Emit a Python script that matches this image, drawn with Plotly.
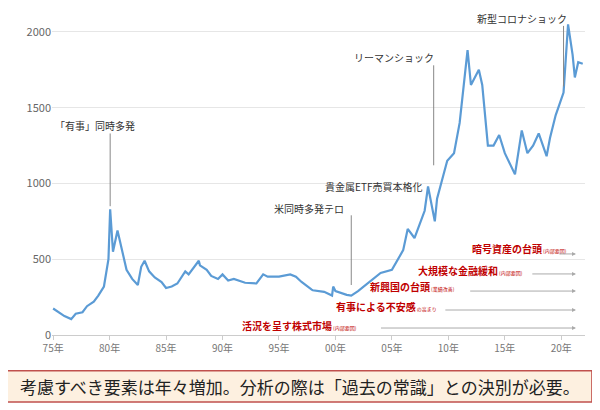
import plotly.graph_objects as go

years = [1975,1975.5,1976,1976.6,1977,1977.6,1978,1978.6,1979,1979.5,1979.9,1980.05,1980.3,1980.7,1981,1981.5,1982,1982.5,1982.8,1983.1,1983.5,1984,1984.6,1985,1985.5,1986,1986.7,1987,1987.9,1988,1988.6,1989,1989.6,1990,1990.5,1991,1992,1993,1993.6,1994,1995,1996,1996.5,1997,1997.9,1998,1999,1999.7,1999.8,2000,2001,2001.4,2002,2002.5,2003,2004,2005,2006,2006.4,2007,2007.9,2008.2,2008.8,2009,2009.9,2010.5,2011,2011.7,2012,2012.7,2013,2013.5,2014,2014.5,2015,2015.9,2016.5,2017,2017.5,2018,2018.7,2019,2019.5,2020,2020.2,2020.6,2021,2021.2,2021.5,2021.9]
price = [175,150,125,105,140,150,190,220,260,320,500,830,550,690,600,430,370,330,450,490,420,380,350,310,320,340,420,400,490,460,430,390,370,400,360,370,345,340,400,385,385,400,385,350,300,295,285,260,320,290,265,260,290,320,350,410,430,560,700,640,820,980,750,900,1150,1200,1400,1880,1650,1750,1650,1250,1250,1320,1200,1060,1350,1200,1250,1330,1180,1300,1450,1550,1600,2050,1850,1700,1800,1790]

tick_vals = [1975,1980,1985,1990,1995,2000,2005,2010,2015,2020]
tick_text = ["75年","80年","85年","90年","95年","00年","05年","10年","15年","20年"]

events = ["「有事」同時多発","米同時多発テロ","貴金属ETF売買本格化","リーマンショック","新型コロナショック"]
event_label_x = [1978.7,1997.7,2003.4,2005.2,2016.5]
event_label_y = [1386,838,983,1830,2090]
event_line_x = [1980.05,2001.4,None,2008.7,2020.2]
event_line = [(850,1330),(330,790),None,(1120,1780),(1640,2040)]

factors = ["暗号資産の台頭","大規模な金融緩和","新興国の台頭","有事による不安感","活況を呈す株式市場"]
factor_sub = ["(内部要因)","(内部要因)","(業績改善)","の高まり","(内部要因)"]
factor_x = [2016.3,2012.0,2006.8,2004.5,1996.8]
factor_y = [574,429,323,191,66]
arrow_y = [535,403,290,165,46]
arrow_x0 = [2019.7,2017.3,2011.8,2009.6,2003.9]

F = "Noto Sans CJK JP"
fig = go.Figure(go.Scatter(x=years, y=price, mode="lines",
                           line=dict(color="#5b9bd5", width=2.2), hoverinfo="skip"))
shapes = []
ann = []
for t, lx, ly, x, yy in zip(events, event_label_x, event_label_y, event_line_x, event_line):
    if x is not None:
        shapes.append(dict(type="line", x0=x, x1=x, y0=yy[0], y1=yy[1], xref="x", yref="y",
                           line=dict(color="#888", width=1)))
    ann.append(dict(x=lx, y=ly, text=t, showarrow=False, xref="x", yref="y",
                    font=dict(family=F, size=10, color="#333")))
for t, s, x, y, ay, ax0 in zip(factors, factor_sub, factor_x, factor_y, arrow_y, arrow_x0):
    ann.append(dict(x=x, y=y, text=f"<b>{t}</b><span style='font-size:5px'> {s}</span>",
                    showarrow=False, xref="x", yref="y",
                    font=dict(family=F, size=10, color="#c00000")))
    ann.append(dict(x=2021.3, y=ay, ax=ax0, ay=ay, axref="x", ayref="y",
                    xref="x", yref="y", showarrow=True, arrowhead=2, arrowsize=0.8,
                    arrowwidth=1, arrowcolor="#aaa", text=""))
shapes.append(dict(type="rect", xref="paper", yref="paper", x0=-0.1, x1=1.013,
                   y0=-0.206, y1=-0.11, fillcolor="#fdf0e0",
                   line=dict(color="#c0504d", width=1.5), layer="below"))
ann.append(dict(xref="paper", yref="paper", x=0.465, y=-0.158, yanchor="middle",
                showarrow=False,
                text="考慮すべき要素は年々増加。分析の際は「過去の常識」との決別が必要。",
                font=dict(family=F, size=17, color="#222")))

fig.update_layout(width=592, height=402, margin=dict(l=44, r=15, t=2, b=75),
                  plot_bgcolor="white", paper_bgcolor="white", showlegend=False,
                  shapes=shapes, annotations=ann,
                  xaxis=dict(range=[1974.9, 2022.1], tickvals=tick_vals, ticktext=tick_text,
                             showgrid=False, showline=True, linecolor="#ccc", ticks="outside",
                             tickcolor="#ccc", ticklen=4,
                             tickfont=dict(family=F, size=10, color="#777")),
                  yaxis=dict(range=[0, 2145], tickvals=[0,500,1000,1500,2000],
                             gridcolor="#e6e6e6", zeroline=False,
                             tickfont=dict(family=F, size=11, color="#666")))
fig.write_html("out.html")
